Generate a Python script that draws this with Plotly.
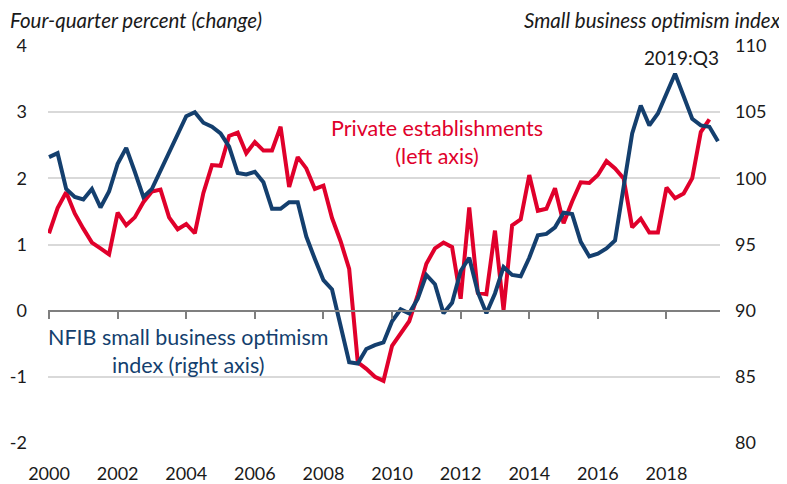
import plotly.graph_objects as go

# Quarterly time axis, 2000:Q1 onward
red_quarters = [2000 + q / 4 for q in range(78)]
blue_quarters = [2000 + q / 4 for q in range(79)]

# Private establishments, four-quarter percent change (left axis)
private_est = [1.17, 1.55, 1.79, 1.47, 1.24, 1.03, 0.94, 0.85, 1.48, 1.29,
               1.41, 1.64, 1.80, 1.83, 1.41, 1.23, 1.31, 1.17, 1.78, 2.20,
               2.19, 2.64, 2.69, 2.38, 2.55, 2.42, 2.42, 2.78, 1.87, 2.32,
               2.15, 1.84, 1.89, 1.40, 1.05, 0.63, -0.78, -0.88, -1.00, -1.06,
               -0.53, -0.35, -0.16, 0.24, 0.71, 0.94, 1.03, 0.96, 0.18, 1.56,
               0.27, 0.25, 1.21, 0.01, 1.29, 1.38, 2.05, 1.51, 1.54, 1.85,
               1.32, 1.65, 1.94, 1.93, 2.05, 2.26, 2.15, 2.00, 1.26, 1.39,
               1.18, 1.18, 1.86, 1.70, 1.77, 2.00, 2.70, 2.89]

# NFIB small business optimism index (right axis)
nfib = [101.6, 101.9, 99.2, 98.6, 98.4, 99.2, 97.8, 99.0, 101.1, 102.3,
        100.5, 98.6, 99.2, 100.6, 102.0, 103.3, 104.7, 105.0, 104.2, 103.9,
        103.4, 102.4, 100.4, 100.3, 100.5, 99.7, 97.7, 97.7, 98.2, 98.2,
        95.6, 93.9, 92.3, 91.6, 88.7, 86.1, 86.0, 87.1, 87.4, 87.6,
        89.2, 90.1, 89.8, 90.9, 92.7, 92.0, 89.8, 90.6, 93.0, 94.0,
        91.4, 89.8, 91.3, 93.3, 92.7, 92.6, 94.0, 95.7, 95.8, 96.3,
        97.4, 97.3, 95.2, 94.1, 94.3, 94.7, 95.3, 99.3, 103.4, 105.5,
        104.0, 104.9, 106.4, 107.9, 106.2, 104.5, 104.0, 103.9, 102.8]

year_ticks = [2000, 2002, 2004, 2006, 2008, 2010, 2012, 2014, 2016, 2018]
left_ticks = [-2, -1, 0, 1, 2, 3, 4]
right_ticks = [80, 85, 90, 95, 100, 105, 110]

RED = "#e0002b"
NAVY = "#143f6e"
FONT = "Lato"

fig = go.Figure()
fig.add_trace(go.Scatter(x=red_quarters, y=private_est, mode="lines",
                         line=dict(color=RED, width=4), yaxis="y", xaxis="x",
                         showlegend=False, hoverinfo="skip"))
fig.add_trace(go.Scatter(x=blue_quarters, y=nfib, mode="lines",
                         line=dict(color=NAVY, width=4), yaxis="y2", xaxis="x",
                         showlegend=False, hoverinfo="skip"))
# invisible trace to activate xaxis2 (zero-line axis with ticks)
fig.add_trace(go.Scatter(x=[2000], y=[0], xaxis="x2", yaxis="y", mode="markers",
                         marker=dict(opacity=0), showlegend=False, hoverinfo="skip"))

xr = [1999.97, 2019.56]
# The page body has an 8px margin, so the figure is sized to fit the window.
fig.update_layout(
    width=779, height=476,
    margin=dict(l=40, r=67, t=38, b=41, autoexpand=False),
    paper_bgcolor="white", plot_bgcolor="white",
    font=dict(family=FONT, size=18, color="#1a1a1a"),
    xaxis=dict(range=xr, tickvals=year_ticks, ticktext=[str(t) for t in year_ticks],
               showgrid=False, zeroline=False, showline=False, automargin=False,
               ticks="outside", ticklen=14, tickcolor="rgba(0,0,0,0)",
               tickfont=dict(size=18, family=FONT)),
    xaxis2=dict(range=xr, tickvals=year_ticks, overlaying="x", anchor="free",
                position=1 / 3, showticklabels=False, showgrid=False, automargin=False,
                zeroline=False, showline=True, linecolor="#7f7f7f", linewidth=2,
                ticks="outside", ticklen=7, tickwidth=2, tickcolor="#7f7f7f"),
    yaxis=dict(range=[-2, 4], tickvals=left_ticks, ticktext=[str(t) for t in left_ticks],
               showgrid=True, gridcolor="#d9d9d9", gridwidth=2, automargin=False,
               zeroline=False, showline=False, ticks="",
               ticklabelstandoff=20, tickfont=dict(size=18, family=FONT)),
    yaxis2=dict(range=[80, 110], tickvals=right_ticks, overlaying="y", side="right",
                showgrid=False, zeroline=False, showline=False, ticks="", automargin=False,
                ticklabelstandoff=14, tickfont=dict(size=18, family=FONT)),
)

# screen pixel -> paper fraction (plot area spans screen x 48..720, y 46..443)
def px(x):
    return (x - 48) / 672

def py(y):
    return (443 - y) / 397

fig.add_annotation(x=px(8), y=py(20), xref="paper", yref="paper", xanchor="left",
                   yanchor="middle", showarrow=False, text="<i>Four-quarter percent (change)</i>",
                   font=dict(size=20.5, family=FONT, color="#1a1a1a"))
fig.add_annotation(x=px(783), y=py(20), xref="paper", yref="paper", xanchor="right",
                   yanchor="middle", showarrow=False, text="<i>Small business optimism index</i>",
                   font=dict(size=20.5, family=FONT, color="#1a1a1a"))
fig.add_annotation(x=px(681), y=py(58), xref="paper", yref="paper", xanchor="center",
                   yanchor="middle", showarrow=False, text="2019:Q3",
                   font=dict(size=19, family=FONT, color="#1a1a1a"))
fig.add_annotation(x=px(437), y=py(142), xref="paper", yref="paper", xanchor="center",
                   yanchor="middle", showarrow=False, text="Private establishments<br>(left axis)",
                   font=dict(size=21.5, family=FONT, color=RED))
fig.add_annotation(x=px(188), y=py(351), xref="paper", yref="paper", xanchor="center",
                   yanchor="middle", showarrow=False,
                   text="NFIB small business optimism<br>index (right axis)",
                   font=dict(size=21.5, family=FONT, color=NAVY))

fig.write_html("out.html")
